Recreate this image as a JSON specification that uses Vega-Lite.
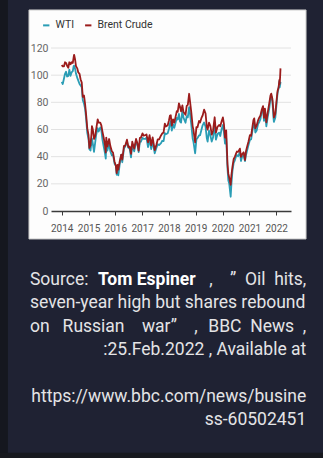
{
  "$schema": "https://vega.github.io/schema/vega-lite/v6.json",
  "width": 240,
  "height": 163,
  "autosize": {"type": "none"},
  "padding": {"left": 51, "top": 48, "right": 32, "bottom": 247},
  "background": "#1f2233",
  "config": {
    "view": {"stroke": null},
    "font": "Roboto",
    "axisX": {
      "grid": false,
      "domainColor": "#3a3a3a",
      "domainWidth": 1.5,
      "tickColor": "#3a3a3a",
      "tickSize": 4,
      "labelColor": "#555555",
      "labelFontSize": 10,
      "labelPadding": 8
    },
    "axisY": {
      "grid": false,
      "domain": false,
      "ticks": false,
      "labelColor": "#666666",
      "labelFontSize": 10.5,
      "labelPadding": 3
    }
  },
  "datasets": {
    "prices": [
      {"t":"2014-01-01","wti":95,"brent":107.5},{"t":"2014-01-15","wti":93.5,"brent":106.5},{"t":"2014-02-01","wti":97.5,"brent":106.5},{"t":"2014-02-15","wti":101,"brent":109.5},{"t":"2014-03-01","wti":102.5,"brent":109},{"t":"2014-03-15","wti":99,"brent":107},{"t":"2014-04-01","wti":99.5,"brent":105.5},{"t":"2014-04-15","wti":104,"brent":109.5},{"t":"2014-05-01","wti":99.5,"brent":108},{"t":"2014-05-15","wti":102,"brent":109.5},{"t":"2014-06-01","wti":103,"brent":109},{"t":"2014-06-12","wti":106.5,"brent":113},{"t":"2014-06-19","wti":107,"brent":115},{"t":"2014-07-01","wti":105,"brent":112},{"t":"2014-07-15","wti":101,"brent":106.5},{"t":"2014-08-01","wti":98,"brent":105},{"t":"2014-08-15","wti":96,"brent":102},{"t":"2014-09-01","wti":93.5,"brent":101},{"t":"2014-09-15","wti":92.5,"brent":97},{"t":"2014-10-01","wti":91,"brent":94.5},{"t":"2014-10-15","wti":81.5,"brent":84},{"t":"2014-11-01","wti":79,"brent":85},{"t":"2014-11-15","wti":75.5,"brent":79},{"t":"2014-12-01","wti":67,"brent":70},{"t":"2014-12-15","wti":57.5,"brent":61},
      {"t":"2015-01-01","wti":53,"brent":56},{"t":"2015-01-13","wti":45.5,"brent":46.5},{"t":"2015-01-28","wti":44.5,"brent":48.5},{"t":"2015-02-10","wti":50.5,"brent":56.5},{"t":"2015-02-17","wti":53.5,"brent":62.5},{"t":"2015-03-01","wti":49.5,"brent":60},{"t":"2015-03-17","wti":43.5,"brent":53},{"t":"2015-04-01","wti":50,"brent":55},{"t":"2015-04-15","wti":56,"brent":60},{"t":"2015-05-06","wti":61,"brent":67.5},{"t":"2015-05-20","wti":58.5,"brent":65},{"t":"2015-06-10","wti":61.5,"brent":65},{"t":"2015-06-25","wti":59.5,"brent":63},{"t":"2015-07-10","wti":52.5,"brent":58.5},{"t":"2015-07-25","wti":48,"brent":54.5},{"t":"2015-08-12","wti":43,"brent":49},{"t":"2015-08-24","wti":38.5,"brent":43},{"t":"2015-08-31","wti":49.2,"brent":54},{"t":"2015-09-15","wti":44.5,"brent":47.5},{"t":"2015-10-09","wti":49.5,"brent":53},{"t":"2015-10-25","wti":44,"brent":48},{"t":"2015-11-15","wti":41,"brent":44},{"t":"2015-12-01","wti":41.5,"brent":43},{"t":"2015-12-21","wti":35,"brent":36.5},
      {"t":"2016-01-08","wti":33.2,"brent":33.5},{"t":"2016-01-20","wti":26.7,"brent":27.9},{"t":"2016-02-01","wti":31.5,"brent":34},{"t":"2016-02-11","wti":26.2,"brent":30.5},{"t":"2016-03-01","wti":34.4,"brent":36.5},{"t":"2016-03-22","wti":41.5,"brent":41.5},{"t":"2016-04-05","wti":35.9,"brent":37.8},{"t":"2016-04-28","wti":46,"brent":48},{"t":"2016-05-15","wti":47.5,"brent":48},{"t":"2016-06-08","wti":51.2,"brent":52.5},{"t":"2016-06-27","wti":46.5,"brent":47},{"t":"2016-07-15","wti":45.9,"brent":47.5},{"t":"2016-08-02","wti":39.5,"brent":42},{"t":"2016-08-19","wti":48.5,"brent":51},{"t":"2016-09-15","wti":43.9,"brent":46},{"t":"2016-10-10","wti":51.3,"brent":53},{"t":"2016-10-25","wti":49.9,"brent":50.5},{"t":"2016-11-14","wti":43.3,"brent":44.4},{"t":"2016-12-01","wti":51.1,"brent":53.9},{"t":"2016-12-15","wti":51,"brent":54},
      {"t":"2017-01-06","wti":53.9,"brent":57.1},{"t":"2017-01-20","wti":53.2,"brent":55.5},{"t":"2017-02-15","wti":53.1,"brent":55.8},{"t":"2017-03-01","wti":54,"brent":56.4},{"t":"2017-03-22","wti":47,"brent":50.6},{"t":"2017-04-12","wti":53.1,"brent":55.9},{"t":"2017-05-04","wti":45.5,"brent":48.4},{"t":"2017-05-24","wti":51.4,"brent":54.2},{"t":"2017-06-21","wti":42.5,"brent":44.8},{"t":"2017-07-15","wti":46.5,"brent":48.9},{"t":"2017-08-01","wti":49.2,"brent":52.7},{"t":"2017-08-20","wti":48.5,"brent":52.7},{"t":"2017-09-15","wti":49.9,"brent":55.6},{"t":"2017-10-01","wti":51.7,"brent":57},{"t":"2017-10-20","wti":51.5,"brent":57.8},{"t":"2017-11-06","wti":57.4,"brent":64.3},{"t":"2017-11-20","wti":56.5,"brent":62.2},{"t":"2017-12-15","wti":57.3,"brent":63.2},
      {"t":"2018-01-01","wti":60.4,"brent":66.6},{"t":"2018-01-15","wti":64.3,"brent":70.3},{"t":"2018-01-26","wti":66.1,"brent":70.5},{"t":"2018-02-09","wti":59.2,"brent":62.8},{"t":"2018-02-26","wti":63.9,"brent":67.5},{"t":"2018-03-15","wti":61.2,"brent":65.1},{"t":"2018-04-01","wti":64.9,"brent":69.3},{"t":"2018-04-18","wti":68.5,"brent":73.5},{"t":"2018-05-01","wti":67.3,"brent":73.1},{"t":"2018-05-17","wti":71.5,"brent":79.3},{"t":"2018-06-01","wti":65.8,"brent":76.8},{"t":"2018-06-15","wti":65.1,"brent":73.4},{"t":"2018-07-03","wti":74.1,"brent":77.8},{"t":"2018-07-18","wti":68.8,"brent":72.9},{"t":"2018-08-15","wti":65,"brent":70.8},{"t":"2018-08-31","wti":69.8,"brent":77.4},{"t":"2018-09-15","wti":68.9,"brent":78.1},{"t":"2018-10-03","wti":76.4,"brent":86.3},{"t":"2018-10-15","wti":71.8,"brent":80.8},{"t":"2018-11-01","wti":63.7,"brent":72.9},{"t":"2018-11-20","wti":53.4,"brent":62.5},{"t":"2018-12-01","wti":50.9,"brent":59.5},{"t":"2018-12-24","wti":42.5,"brent":50.5},
      {"t":"2019-01-10","wti":52.6,"brent":61.7},{"t":"2019-01-25","wti":53.7,"brent":61.6},{"t":"2019-02-15","wti":55.6,"brent":66.3},{"t":"2019-03-01","wti":55.8,"brent":65.1},{"t":"2019-03-20","wti":59.8,"brent":68.5},{"t":"2019-04-05","wti":63.1,"brent":70.3},{"t":"2019-04-25","wti":65.2,"brent":74.6},{"t":"2019-05-15","wti":62,"brent":71.8},{"t":"2019-06-01","wti":53.5,"brent":61.9},{"t":"2019-06-12","wti":51.1,"brent":59.9},{"t":"2019-07-01","wti":59.1,"brent":65},{"t":"2019-07-20","wti":55.6,"brent":62.5},{"t":"2019-08-07","wti":51.1,"brent":56.2},{"t":"2019-08-25","wti":54.2,"brent":59.3},{"t":"2019-09-16","wti":62.9,"brent":69},{"t":"2019-10-03","wti":52.5,"brent":57.7},{"t":"2019-10-25","wti":56.7,"brent":62},{"t":"2019-11-15","wti":57.7,"brent":63.3},{"t":"2019-12-01","wti":55.2,"brent":62.4},{"t":"2019-12-20","wti":60.4,"brent":66.1},
      {"t":"2020-01-06","wti":63.3,"brent":68.9},{"t":"2020-01-20","wti":58.3,"brent":64.2},{"t":"2020-02-04","wti":49.6,"brent":54},{"t":"2020-02-20","wti":53.8,"brent":59.3},{"t":"2020-03-09","wti":31.1,"brent":34.4},{"t":"2020-03-20","wti":22.5,"brent":27.5},{"t":"2020-04-01","wti":20.3,"brent":24.7},{"t":"2020-04-21","wti":10.5,"brent":19.3},{"t":"2020-05-01","wti":19.8,"brent":26.4},{"t":"2020-05-15","wti":29.4,"brent":32.5},{"t":"2020-06-01","wti":35.4,"brent":38.3},{"t":"2020-06-15","wti":37.1,"brent":39.7},{"t":"2020-07-01","wti":39.8,"brent":42},{"t":"2020-07-15","wti":41.2,"brent":43.8},{"t":"2020-08-01","wti":40.3,"brent":43.5},{"t":"2020-08-25","wti":43.4,"brent":45.9},{"t":"2020-09-08","wti":36.8,"brent":39.8},{"t":"2020-09-25","wti":40.2,"brent":41.9},{"t":"2020-10-15","wti":40.9,"brent":43.2},{"t":"2020-11-02","wti":36.8,"brent":37.5},{"t":"2020-11-15","wti":41.1,"brent":43.8},{"t":"2020-12-01","wti":44.6,"brent":47.4},{"t":"2020-12-20","wti":48.5,"brent":51.2},
      {"t":"2021-01-08","wti":52.2,"brent":55.9},{"t":"2021-01-25","wti":52.8,"brent":55.4},{"t":"2021-02-10","wti":58.6,"brent":61.3},{"t":"2021-02-25","wti":63.5,"brent":66.9},{"t":"2021-03-08","wti":65.1,"brent":68.2},{"t":"2021-03-23","wti":57.8,"brent":60.8},{"t":"2021-04-10","wti":59.3,"brent":62.9},{"t":"2021-04-28","wti":63.8,"brent":66.5},{"t":"2021-05-15","wti":65.4,"brent":68.7},{"t":"2021-06-01","wti":67.7,"brent":70.3},{"t":"2021-06-20","wti":73.7,"brent":74.9},{"t":"2021-07-06","wti":75.2,"brent":77.2},{"t":"2021-07-19","wti":66.4,"brent":68.6},{"t":"2021-08-01","wti":73.9,"brent":75.4},{"t":"2021-08-20","wti":62.3,"brent":65.2},{"t":"2021-09-08","wti":69.3,"brent":72.6},{"t":"2021-09-28","wti":75.3,"brent":79.1},{"t":"2021-10-15","wti":82.3,"brent":84.9},{"t":"2021-10-26","wti":84.6,"brent":86.4},{"t":"2021-11-10","wti":81.3,"brent":82.6},{"t":"2021-11-26","wti":68.2,"brent":72.7},{"t":"2021-12-01","wti":65.6,"brent":68.9},{"t":"2021-12-20","wti":68.6,"brent":71.5},
      {"t":"2022-01-05","wti":77.9,"brent":80.8},{"t":"2022-01-20","wti":86.9,"brent":88.4},{"t":"2022-02-03","wti":90.3,"brent":91.1},{"t":"2022-02-14","wti":95.5,"brent":96.5},{"t":"2022-02-18","wti":91.1,"brent":93.5},{"t":"2022-02-24","wti":92.8,"brent":99.1},{"t":"2022-03-01","wti":95,"brent":105}
    ],
    "grid": [{"v": 20}, {"v": 40}, {"v": 60}, {"v": 80}, {"v": 100}, {"v": 120}],
    "capLeft": [
      {"line": 1, "text": "Source:"},
      {"line": 2, "text": "seven-year high but shares rebound"},
      {"line": 3, "text": "on \u00a0 Russian \u00a0 \u00a0war” \u00a0 \u00a0,"}
    ],
    "capBold": [
      {"line": 1, "text": "Tom Espiner"}
    ],
    "capRight": [
      {"line": 1, "text": ", \u00a0 \u00a0” \u00a0Oil \u00a0hits,"},
      {"line": 3, "text": "BBC \u00a0News \u00a0,"},
      {"line": 4, "text": ":25.Feb.2022 , Available at"},
      {"line": 6, "text": "https://www.bbc.com/news/busine"},
      {"line": 7, "text": "ss-60502451"}
    ]
  },
  "resolve": {"scale": {"y": "independent"}},
  "layer": [
    {
      "layer": [
        {
          "data": {"values": [{}]},
          "mark": {"type": "rect", "color": "#15171f"},
          "encoding": {
            "x": {"datum": {"year": 2010, "month": 1, "date": 1}, "type": "temporal",
              "axis": {"title": null, "zindex": 1, "labelOverlap": false, "format": "%Y", "values": [{"year": 2014}, {"year": 2015}, {"year": 2016}, {"year": 2017}, {"year": 2018}, {"year": 2019}, {"year": 2020}, {"year": 2021}, {"year": 2022}]},
              "scale": {"domain": [{"year": 2013, "month": 8, "date": 8}, {"year": 2022, "month": 7, "date": 22}]}},
            "x2": {"datum": {"year": 2011, "month": 12, "date": 30}},
            "y": {"datum": 200, "type": "quantitative",
              "axis": {"title": null, "zindex": 1, "labelOverlap": false, "values": [0, 20, 40, 60, 80, 100, 120]},
              "scale": {"domain": [0, 120]}},
            "y2": {"datum": -250}
          }
        },
        {
          "data": {"values": [{}]},
          "mark": {"type": "rect", "color": "#17191f"},
          "encoding": {
            "x": {"datum": {"year": 2010, "month": 1, "date": 1}, "type": "temporal",
              "axis": {"title": null, "zindex": 1, "labelOverlap": false, "format": "%Y", "values": [{"year": 2014}, {"year": 2015}, {"year": 2016}, {"year": 2017}, {"year": 2018}, {"year": 2019}, {"year": 2020}, {"year": 2021}, {"year": 2022}]}},
            "x2": {"datum": {"year": 2025, "month": 1, "date": 1}},
            "y": {"datum": -178, "type": "quantitative",
              "axis": {"title": null, "zindex": 1, "labelOverlap": false, "values": [0, 20, 40, 60, 80, 100, 120]}},
            "y2": {"datum": -250}
          }
        },
        {
          "data": {"values": [{}]},
          "mark": {"type": "rect", "color": "#fdfdfd", "stroke": "#c8c8c8", "strokeWidth": 1},
          "encoding": {
            "x": {"datum": {"year": 2012, "month": 10, "date": 12}, "type": "temporal",
              "axis": {"title": null, "zindex": 1, "labelOverlap": false, "format": "%Y", "values": [{"year": 2014}, {"year": 2015}, {"year": 2016}, {"year": 2017}, {"year": 2018}, {"year": 2019}, {"year": 2020}, {"year": 2021}, {"year": 2022}]}},
            "x2": {"datum": {"year": 2023, "month": 2, "date": 12}},
            "y": {"datum": 148, "type": "quantitative",
              "axis": {"title": null, "zindex": 1, "labelOverlap": false, "values": [0, 20, 40, 60, 80, 100, 120]}},
            "y2": {"datum": -20.6}
          }
        },
        {
          "data": {"name": "grid"},
          "mark": {"type": "rule", "color": "#e2e2e2", "strokeWidth": 1},
          "encoding": {
            "y": {"field": "v", "type": "quantitative",
              "axis": {"title": null, "zindex": 1, "labelOverlap": false, "values": [0, 20, 40, 60, 80, 100, 120]}}
          }
        },
        {
          "data": {"name": "prices"},
          "transform": [{"fold": ["wti", "brent"], "as": ["series", "price"]}],
          "mark": {"type": "line", "strokeWidth": 1.8, "strokeJoin": "round"},
          "encoding": {
            "x": {
              "field": "t", "type": "temporal",
              "scale": {"domain": [{"year": 2013, "month": 8, "date": 8}, {"year": 2022, "month": 7, "date": 22}]},
              "axis": {"title": null, "zindex": 1, "labelOverlap": false, "format": "%Y", "values": [{"year": 2014}, {"year": 2015}, {"year": 2016}, {"year": 2017}, {"year": 2018}, {"year": 2019}, {"year": 2020}, {"year": 2021}, {"year": 2022}]}
            },
            "y": {
              "field": "price", "type": "quantitative",
              "scale": {"domain": [0, 120]},
              "axis": {"title": null, "zindex": 1, "labelOverlap": false, "values": [0, 20, 40, 60, 80, 100, 120]}
            },
            "color": {
              "field": "series", "type": "nominal",
              "scale": {"domain": ["wti", "brent"], "range": ["#2a9db5", "#9b1c1c"]},
              "legend": {
                "title": null,
                "orient": "none",
                "legendX": -10,
                "legendY": -28,
                "direction": "horizontal",
                "symbolType": "stroke",
                "symbolSize": 40,
                "symbolStrokeWidth": 2,
                "labelFontSize": 10.5,
                "labelColor": "#333333",
                "columnPadding": 6,
                "labelExpr": "datum.label == 'wti' ? 'WTI' : 'Brent Crude'"
              }
            }
          }
        }
      ]
    },
    {
      "layer": [
        {
          "data": {"name": "capLeft"},
          "mark": {"type": "text", "align": "left", "baseline": "alphabetic", "fontSize": 17.5, "color": "#e4e4e6"},
          "encoding": {
            "x": {"datum": {"year": 2012, "month": 10, "date": 25}, "type": "temporal",
              "axis": {"title": null, "zindex": 1, "labelOverlap": false, "format": "%Y", "values": [{"year": 2014}, {"year": 2015}, {"year": 2016}, {"year": 2017}, {"year": 2018}, {"year": 2019}, {"year": 2020}, {"year": 2021}, {"year": 2022}]}},
            "y": {"field": "line", "type": "quantitative", "scale": {"domain": [1, 7], "range": [237, 377]}, "axis": null},
            "text": {"field": "text"}
          }
        },
        {
          "data": {"name": "capBold"},
          "mark": {"type": "text", "align": "left", "baseline": "alphabetic", "fontSize": 17.5, "fontWeight": "bold", "color": "#ffffff"},
          "encoding": {
            "x": {"datum": {"year": 2015, "month": 5, "date": 10}, "type": "temporal",
              "axis": {"title": null, "zindex": 1, "labelOverlap": false, "format": "%Y", "values": [{"year": 2014}, {"year": 2015}, {"year": 2016}, {"year": 2017}, {"year": 2018}, {"year": 2019}, {"year": 2020}, {"year": 2021}, {"year": 2022}]}},
            "y": {"field": "line", "type": "quantitative", "scale": {"domain": [1, 7], "range": [237, 377]}, "axis": null},
            "text": {"field": "text"}
          }
        },
        {
          "data": {"name": "capRight"},
          "mark": {"type": "text", "align": "right", "baseline": "alphabetic", "fontSize": 17.5, "color": "#e4e4e6"},
          "encoding": {
            "x": {"datum": {"year": 2023, "month": 2, "date": 15}, "type": "temporal",
              "axis": {"title": null, "zindex": 1, "labelOverlap": false, "format": "%Y", "values": [{"year": 2014}, {"year": 2015}, {"year": 2016}, {"year": 2017}, {"year": 2018}, {"year": 2019}, {"year": 2020}, {"year": 2021}, {"year": 2022}]}},
            "y": {"field": "line", "type": "quantitative", "scale": {"domain": [1, 7], "range": [237, 377]}, "axis": null},
            "text": {"field": "text"}
          }
        }
      ]
    }
  ]
}
